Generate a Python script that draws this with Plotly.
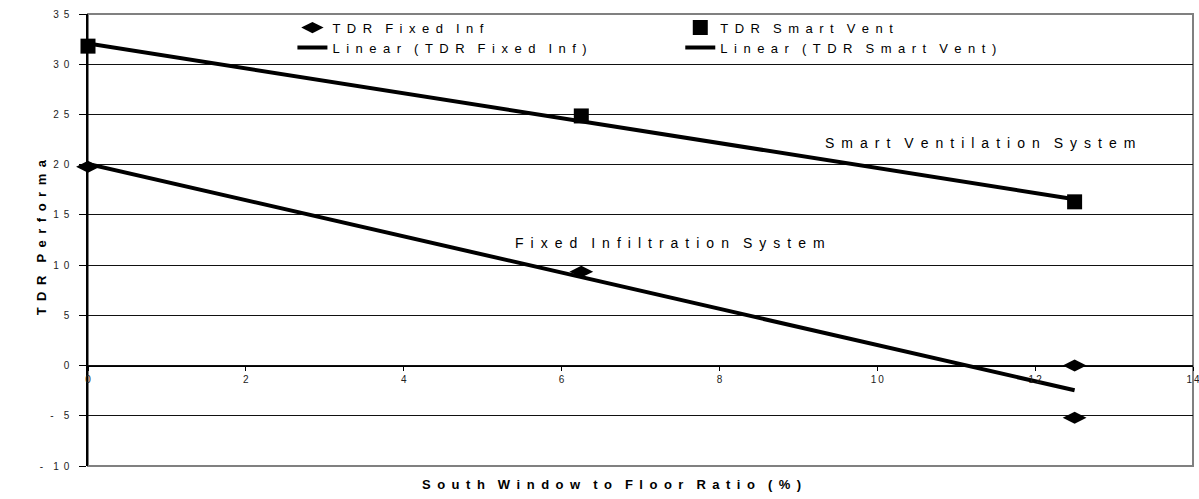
import numpy as np
import plotly.graph_objects as go

# ---- data ----
fixed_x = [0, 6.25, 12.5, 12.5]
fixed_y = [19.8, 9.35, 0.0, -5.2]
smart_x = [0, 6.25, 12.5]
smart_y = [31.8, 24.85, 16.3]

y_ticks = [-10, -5, 0, 5, 10, 15, 20, 25, 30, 35]
x_ticks = [0, 2, 4, 6, 8, 10, 12, 14]

series_names = ["TDR Fixed Inf", "TDR Smart Vent",
                "Linear (TDR Fixed Inf)", "Linear (TDR Smart Vent)"]
x_title = "South Window to Floor Ratio (%)"
y_title = "TDR Performa"
label_smart = "Smart Ventilation System"
label_fixed = "Fixed Infiltration System"

NB = "\u00a0"
EN = "\u2002"
THIN = "\u2009"


def sp(s, gap=EN):
    words = s.split(" ")
    return (gap * 2).join(gap.join(list(w)) for w in words)


# linear trendlines (least squares)
fs, fi = np.polyfit(fixed_x, fixed_y, 1)
ss, si = np.polyfit(smart_x, smart_y, 1)
fx = [min(fixed_x), max(fixed_x)]
sx = [min(smart_x), max(smart_x)]

FONT = "Liberation Sans, Arial, sans-serif"

fig = go.Figure()
fig.add_trace(go.Scatter(x=fixed_x, y=fixed_y, mode="markers", name=sp(series_names[0]),
                         marker=dict(symbol="diamond-wide", size=17, color="black"),
                         legend="legend", cliponaxis=False))
fig.add_trace(go.Scatter(x=fx, y=[fi + fs * v for v in fx], mode="lines", name=sp(series_names[2]),
                         line=dict(color="black", width=4), legend="legend"))
fig.add_trace(go.Scatter(x=smart_x, y=smart_y, mode="markers", name=sp(series_names[1]),
                         marker=dict(symbol="square", size=15, color="black"),
                         legend="legend2", cliponaxis=False))
fig.add_trace(go.Scatter(x=sx, y=[si + ss * v for v in sx], mode="lines", name=sp(series_names[3]),
                         line=dict(color="black", width=4), legend="legend2"))

zero_frac = (0 - y_ticks[0]) / (y_ticks[-1] - y_ticks[0])

fig.update_layout(
    width=1199, height=499,
    margin=dict(l=88, r=6, t=14, b=33, autoexpand=False),
    paper_bgcolor="white", plot_bgcolor="white",
    font=dict(family=FONT, color="black"),
    xaxis=dict(range=[0, 14], tickvals=x_ticks, ticktext=[sp(str(v), THIN) for v in x_ticks],
               showgrid=False, zeroline=False, showline=True, linecolor="black", linewidth=1,
               ticks="outside", ticklen=4, tickcolor="black", automargin=False,
               anchor="free", position=zero_frac, ticklabeloverflow="allow",
               tickfont=dict(size=10, family=FONT, color="#222")),
    yaxis=dict(range=[-10, 35], tickvals=y_ticks,
               ticktext=[sp(str(v)).replace("-", "-" + EN) for v in y_ticks],
               showgrid=True, gridcolor="#111", gridwidth=1, zeroline=False,
               showline=True, linecolor="black", linewidth=1.5, automargin=False,
               ticks="outside", ticklen=7, tickcolor="black", ticklabelstandoff=8,
               tickfont=dict(size=10, family=FONT, color="#222")),
    showlegend=True,
    legend=dict(x=0.185, y=1.003, xanchor="left", yanchor="top", bgcolor="rgba(0,0,0,0)",
                font=dict(size=13, family=FONT, color="black"), tracegroupgap=0,
                itemwidth=30),
    legend2=dict(x=0.536, y=1.003, xanchor="left", yanchor="top", bgcolor="rgba(0,0,0,0)",
                 font=dict(size=13, family=FONT, color="black"), tracegroupgap=0,
                 itemwidth=30),
    shapes=[dict(type="rect", xref="paper", yref="paper", x0=0, x1=1, y0=0, y1=1,
                 line=dict(color="#808080", width=2), layer="between")],
    annotations=[
        dict(text="<b>" + sp(x_title) + "</b>", xref="paper", yref="paper",
             x=0.474, y=-0.042, xanchor="center", yanchor="middle", showarrow=False,
             font=dict(size=13, family=FONT, color="black")),
        dict(text="<b>" + sp(y_title) + "</b>", xref="paper", yref="paper",
             x=-0.042, y=0.505, xanchor="center", yanchor="middle", textangle=-90,
             showarrow=False, font=dict(size=13, family=FONT, color="black")),
        dict(text=sp(label_smart), x=11.3, y=22.2, showarrow=False,
             font=dict(size=14, family=FONT, color="black")),
        dict(text=sp(label_fixed), x=7.38, y=12.2, showarrow=False,
             font=dict(size=14, family=FONT, color="black")),
    ],
)

fig.write_html("out.html")
